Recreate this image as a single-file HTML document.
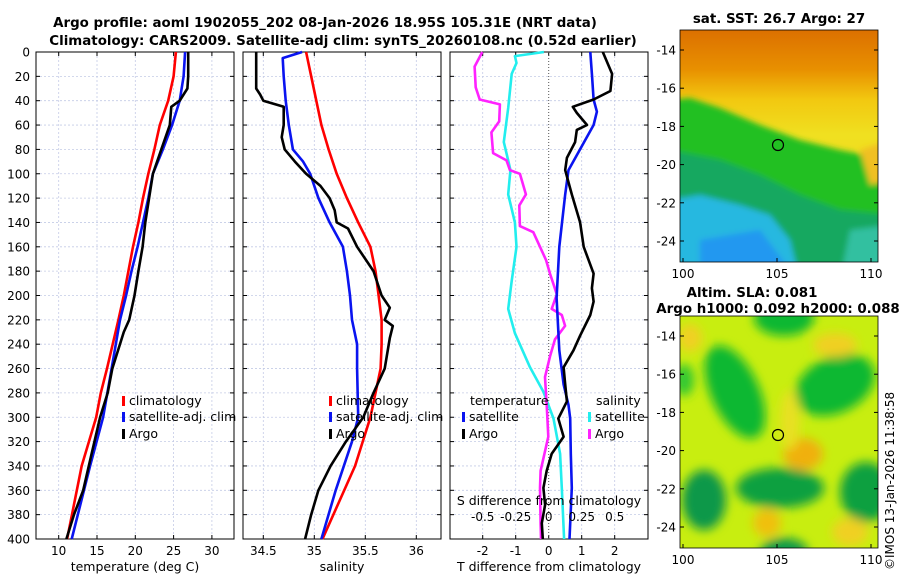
<!DOCTYPE html>
<html><head><meta charset="utf-8"><style>
body{margin:0;background:#fff;}
svg{display:block;font-family:"DejaVu Sans","Liberation Sans",sans-serif;}
</style></head><body>
<svg id="chart" width="900" height="580" viewBox="0 0 900 580" xmlns="http://www.w3.org/2000/svg">
<defs>
<filter id="blur8" x="-50%" y="-50%" width="200%" height="200%"><feGaussianBlur stdDeviation="5"/></filter>
<filter id="blur4" x="-50%" y="-50%" width="200%" height="200%"><feGaussianBlur stdDeviation="3"/></filter>
<clipPath id="clipTop"><rect x="680" y="30" width="198" height="232"/></clipPath>
<clipPath id="clipBot"><rect x="680" y="316" width="198" height="232"/></clipPath>
<linearGradient id="sstBg" x1="0" y1="0" x2="0" y2="1">
<stop offset="0" stop-color="#dc7000"/><stop offset="0.17" stop-color="#e89000"/><stop offset="0.3" stop-color="#f2c810"/><stop offset="0.45" stop-color="#f0e020"/><stop offset="1" stop-color="#f0d020"/>
</linearGradient>
</defs>
<g id="titles">
<text x="325" y="27" font-size="13.4" font-weight="bold" text-anchor="middle">Argo profile: aoml 1902055_202 08-Jan-2026 18.95S 105.31E (NRT data)</text>
<text x="343" y="45" font-size="13.4" font-weight="bold" text-anchor="middle">Climatology: CARS2009. Satellite-adj clim: synTS_20260108.nc (0.52d earlier)</text>
</g>
<g id="panels"></g>
<g id="maps">
<g clip-path="url(#clipTop)">
<rect x="680" y="30" width="198" height="232" fill="url(#sstBg)"/>
<g filter="url(#blur4)">
<polygon points="670,100 690,98 720,108 760,125 800,140 840,150 890,160 890,280 670,280" fill="#20c020"/>
<polygon points="670,150 720,160 760,175 800,195 840,210 890,215 890,280 670,280" fill="#14a860"/>
<polygon points="670,200 700,195 740,205 770,215 790,240 800,280 670,280" fill="#28b8e0"/>
<polygon points="700,240 760,230 790,270 700,280" fill="#2098f0"/>
<polygon points="850,230 890,225 890,280 840,280" fill="#30c0a0"/>
<polygon points="860,150 890,140 890,180 870,185" fill="#f0c020"/>
</g>
</g>
<g clip-path="url(#clipBot)">
<rect x="680" y="316" width="198" height="232" fill="#c8ee10"/>
<g filter="url(#blur8)">
<ellipse cx="735" cy="392" rx="24" ry="50" transform="rotate(-25 735 392)" fill="#10b830"/>
<ellipse cx="835" cy="385" rx="42" ry="28" transform="rotate(-25 835 385)" fill="#10b830"/>
<ellipse cx="784" cy="318" rx="30" ry="18" fill="#10b830"/>
<ellipse cx="704" cy="500" rx="22" ry="30" fill="#109848"/>
<ellipse cx="780" cy="488" rx="44" ry="20" fill="#10a040"/>
<ellipse cx="866" cy="492" rx="26" ry="30" fill="#10a040"/>
<ellipse cx="784" cy="552" rx="24" ry="14" fill="#109848"/>
<ellipse cx="684" cy="380" rx="10" ry="16" fill="#30c830"/>
<ellipse cx="803" cy="454" rx="20" ry="16" fill="#f0b010"/>
<ellipse cx="767" cy="523" rx="14" ry="14" fill="#f0c010"/>
<ellipse cx="835" cy="345" rx="22" ry="12" fill="#f0d020"/>
<ellipse cx="690" cy="338" rx="12" ry="14" fill="#f0d020"/>
<ellipse cx="850" cy="532" rx="18" ry="14" fill="#f0d020"/>
<ellipse cx="790" cy="420" rx="10" ry="30" fill="#e8e020"/>
</g>
</g>
<rect x="680" y="30" width="198" height="232" fill="none" stroke="#000" stroke-width="0.8"/>
<rect x="680" y="316" width="198" height="232" fill="none" stroke="#000" stroke-width="0.8"/>
<circle cx="778" cy="145" r="5.5" fill="none" stroke="#000" stroke-width="1.2"/>
<circle cx="778" cy="435" r="5.5" fill="none" stroke="#000" stroke-width="1.2"/>
<text x="779" y="23" font-size="13.4" font-weight="bold" text-anchor="middle">sat. SST: 26.7 Argo: 27</text>
<text x="752" y="297" font-size="13.4" font-weight="bold" text-anchor="middle">Altim. SLA: 0.081</text>
<text x="778" y="313" font-size="13.4" font-weight="bold" text-anchor="middle">Argo h1000: 0.092 h2000: 0.088</text>
<text x="0" y="0" font-size="12" transform="translate(894 570) rotate(-90)">©IMOS 13-Jan-2026 11:38:58</text>
</g>
</svg>
<script>
// ---- data ----
const tClimDepth=[0,20,40,60,80,100,120,140,160,180,200,220,260,280,300,340,400];
const tClimVal=[25.3,25.0,24.3,23.2,22.5,21.7,21.0,20.4,19.7,19.1,18.5,17.8,16.3,15.5,14.9,13.0,11.1];
const tSatDepth=[0,20,40,60,80,100,120,140,160,180,200,220,260,300,340,400];
const tSatVal=[26.5,26.3,25.8,24.8,23.6,22.3,21.7,21.0,20.3,19.5,18.8,18.0,16.9,15.8,14.1,11.7];
const tArgoDepth=[0,20,30,40,45,60,80,100,120,140,160,180,200,220,230,260,280,300,330,360,380,400];
const tArgoVal=[26.9,26.9,26.8,25.8,24.7,24.5,23.4,22.3,21.8,21.3,20.95,20.4,19.9,19.2,18.5,17.0,16.4,15.4,14.3,13.2,12.0,11.0];
const sClimDepth=[0,20,40,60,80,100,120,140,160,180,200,220,240,260,300,340,400];
const sClimVal=[34.92,34.97,35.02,35.07,35.14,35.22,35.32,35.43,35.55,35.60,35.63,35.66,35.66,35.65,35.55,35.40,35.08];
const sSatDepth=[0,5,20,40,60,80,90,100,120,140,160,180,200,220,240,260,300,320,360,400];
const sSatVal=[34.88,34.69,34.70,34.72,34.75,34.79,34.89,34.96,35.04,35.15,35.28,35.32,35.35,35.37,35.42,35.42,35.43,35.37,35.21,35.07];
const sArgoDepth=[0,30,35,40,45,60,70,80,90,100,110,120,130,140,145,160,180,200,210,220,225,235,260,280,300,320,340,360,380,400];
const sArgoVal=[34.43,34.43,34.47,34.50,34.70,34.70,34.68,34.71,34.81,34.92,35.06,35.15,35.20,35.22,35.33,35.42,35.58,35.66,35.74,35.69,35.77,35.74,35.69,35.58,35.48,35.31,35.16,35.04,34.97,34.91];
const dTArgoDepth=[0,18,32,39,45,50,60,64,74,87,97,117,140,160,182,194,205,216,233,245,259,273,287,301,316,330,344,358,372,387,400];
const dTArgoVal=[1.64,1.92,1.87,1.36,0.73,0.85,1.16,0.85,0.8,0.55,0.5,0.7,0.95,1.06,1.36,1.31,1.36,1.26,0.95,0.75,0.45,0.5,0.55,0.29,0.45,0.09,-0.06,-0.16,-0.11,-0.21,-0.18];
const dTSatDepth=[0,18,39,49,60,97,117,160,202,245,273,290,301,330,358,400];
const dTSatVal=[1.26,1.31,1.36,1.46,1.36,0.6,0.5,0.32,0.24,0.32,0.45,0.6,0.65,0.67,0.7,0.63];
const dSSatDepth=[0,3.4,9,18,46,74,89,97,117,140,160,188,211,231,259,279,301,330,358,400];
const dSSatVal=[-0.036,-0.256,-0.244,-0.28,-0.307,-0.34,-0.307,-0.29,-0.307,-0.256,-0.244,-0.28,-0.307,-0.256,-0.142,-0.04,0.036,0.086,0.099,0.117];
const dSArgoDepth=[0,12,29,39,43,57,66,83,89,97,100,117,126,143,148,160,171,182,199,211,216,225,236,250,267,290,301,316,344,358,387,400];
const dSArgoVal=[-0.503,-0.561,-0.553,-0.523,-0.37,-0.375,-0.434,-0.421,-0.32,-0.294,-0.218,-0.173,-0.223,-0.218,-0.117,-0.066,-0.02,0.01,0.061,0.023,0.099,0.124,0.048,0.01,-0.028,-0.015,-0.01,-0.003,-0.061,-0.066,-0.061,-0.058];
const depthTicks=[0,20,40,60,80,100,120,140,160,180,200,220,240,260,280,300,320,340,360,380,400];
const tempTicks=[10,15,20,25,30];
const salTicks=[34.5,35,35.5,36];
const dTTicks=[-2,-1,0,1,2];
const dSTicks=[-0.5,-0.25,0,0.25,0.5];
// ---- axes ----
const NS="http://www.w3.org/2000/svg";
const TOP=52,BOT=539;
const yD=d=>TOP+(BOT-TOP)*d/400;
const xT=v=>58.7+(v-10)*38.3/5;
const xS=v=>263.3+(v-34.5)*102;
const xDT=v=>548.7+v*33;
const xDS=v=>548.7+v*132;
const g=document.getElementById('panels');
function mk(tag,attrs,parent){const e=document.createElementNS(NS,tag);for(const k in attrs)e.setAttribute(k,attrs[k]);(parent||g).appendChild(e);return e;}
function txt(x,y,s,size,anchor,parent){const t=mk('text',{x:x,y:y,'font-size':size,'text-anchor':anchor},parent);t.textContent=s;return t;}
const panels=[{x0:36,x1:234,ticks:tempTicks,fx:xT,lab:'temperature (deg C)',name:'temperature-panel'},
{x0:243,x1:441,ticks:salTicks,fx:xS,lab:'salinity',name:'salinity-panel'},
{x0:450,x1:648,ticks:dTTicks,fx:xDT,lab:'T difference from climatology',name:'difference-panel'}];
panels.forEach((p,i)=>{
 const pg=mk('g',{});
 
 
 depthTicks.forEach(d=>{
  const y=yD(d);
  const gl=mk('line',{x1:p.x0,x2:p.x1,y1:y,y2:y,stroke:'#c4cbe6','stroke-width':0.8,'stroke-dasharray':'2,2'},pg);
  
  
  mk('line',{x1:p.x0,x2:p.x0+4,y1:y,y2:y,stroke:'#000'},pg);
  mk('line',{x1:p.x1-4,x2:p.x1,y1:y,y2:y,stroke:'#000'},pg);
 });
 p.ticks.forEach(v=>{
  const x=p.fx(v);
  if(!(i===2&&v===0)){const vl=mk('line',{x1:x,x2:x,y1:TOP,y2:BOT,stroke:'#c4cbe6','stroke-width':0.8,'stroke-dasharray':'2,2'},pg);
  
  }
  mk('line',{x1:x,x2:x,y1:BOT-4,y2:BOT,stroke:'#000'},pg);
  mk('line',{x1:x,x2:x,y1:TOP,y2:TOP+4,stroke:'#000'},pg);
  const t=txt(x,555,String(v),12,'middle',pg);
  
  
 });
 mk('rect',{x:p.x0,y:TOP,width:p.x1-p.x0,height:BOT-TOP,fill:'none',stroke:'#000','stroke-width':1},pg);
 const xl=txt((p.x0+p.x1)/2,571,p.lab,12.5,'middle',pg);
 
 
});
depthTicks.forEach(d=>{const t=txt(30,yD(d)+4.5,String(d),12,'end');
 
 });
const zl=mk('line',{x1:xDT(0),x2:xDT(0),y1:TOP,y2:BOT,stroke:'#555','stroke-width':1,'stroke-dasharray':'1,2'});


function line(depths,vals,fx,color,name){
 const pts=depths.map((d,k)=>fx(vals[k]).toFixed(1)+','+yD(d).toFixed(1)).join(' ');
 const l=mk('polyline',{points:pts,fill:'none',stroke:color,'stroke-width':2.6,'stroke-linejoin':'round'});
 
 
}
line(tClimDepth,tClimVal,xT,'#f00','temp-climatology-line');
line(tSatDepth,tSatVal,xT,'#0a14f0','temp-satellite-line');
line(tArgoDepth,tArgoVal,xT,'#000','temp-argo-line');
line(sClimDepth,sClimVal,xS,'#f00','sal-climatology-line');
line(sSatDepth,sSatVal,xS,'#0a14f0','sal-satellite-line');
line(sArgoDepth,sArgoVal,xS,'#000','sal-argo-line');
line(dSSatDepth,dSSatVal,xDS,'#22eeee','s-diff-satellite-line');
line(dSArgoDepth,dSArgoVal,xDS,'#ff22ff','s-diff-argo-line');
line(dTSatDepth,dTSatVal,xDT,'#0a14f0','t-diff-satellite-line');
line(dTArgoDepth,dTArgoVal,xDT,'#000','t-diff-argo-line');
const st=txt(549,505,'S difference from climatology',12.5,'middle');


dSTicks.forEach(v=>{const t=txt(xDS(v),521,String(v),12,'middle');
 
 });
function leg(x,y,color,label,name){
 const lg=mk('g',{});
 
 
 mk('rect',{x:x,y:y-9,width:3,height:10,fill:color},lg);
 txt(x+7,y,label,12.5,'start',lg);
}
[[122,'climatology','legend-temp-climatology','#f00',405],[122,'satellite-adj. clim','legend-temp-satellite','#0a14f0',421],[122,'Argo','legend-temp-argo','#000',438],
 [329,'climatology','legend-sal-climatology','#f00',405],[329,'satellite-adj. clim','legend-sal-satellite','#0a14f0',421],[329,'Argo','legend-sal-argo','#000',438]]
 .forEach(a=>leg(a[0],a[4],a[3],a[1],a[2]));
const lt=txt(470,405,'temperature',12.5,'start');


const ls=txt(596,405,'salinity',12.5,'start');


leg(462,421,'#0a14f0','satellite','legend-dt-satellite');
leg(462,438,'#000','Argo','legend-dt-argo');
leg(588,421,'#22eeee','satellite','legend-ds-satellite');
leg(588,438,'#ff22ff','Argo','legend-ds-argo');
const mapG=document.getElementById('maps');
const latTicks=[-14,-16,-18,-20,-22,-24];
const lonTicks=[100,105,110];
[[30,262],[316,548]].forEach(([t0,t1])=>{
 latTicks.forEach(l=>{const y=t0+20+(-14-l)*19.1;
  const tt=txt(676,y+4.5,String(l),12,'end',mapG);
  
  
  mk('line',{x1:680,x2:684,y1:y,y2:y,stroke:'#000'},mapG);
  mk('line',{x1:874,x2:878,y1:y,y2:y,stroke:'#000'},mapG);});
 lonTicks.forEach(l=>{const x=683+(l-100)*18.8;
  const tt=txt(x,t1+16,String(l),12,'middle',mapG);
  
  
  mk('line',{x1:x,x2:x,y1:t1-4,y2:t1,stroke:'#000'},mapG);});
});
</script>
</body></html>
